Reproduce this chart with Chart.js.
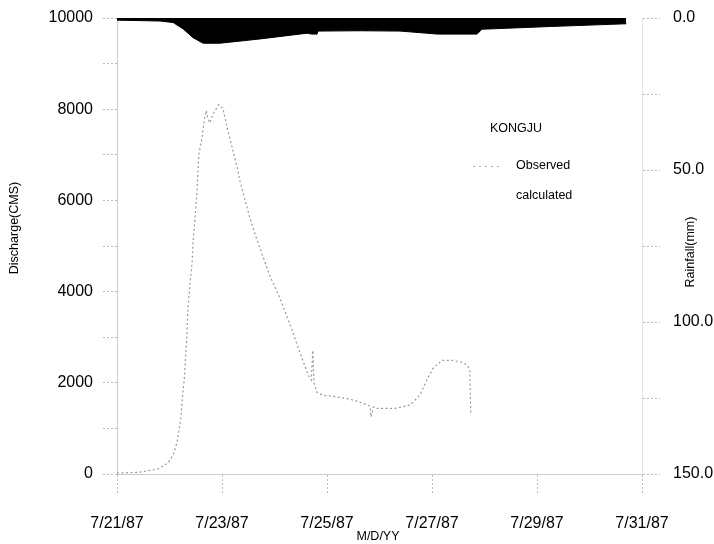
<!DOCTYPE html>
<html>
<head>
<meta charset="utf-8">
<script src="https://cdn.jsdelivr.net/npm/chart.js@4/dist/chart.umd.min.js"></script>
<style>
html,body{margin:0;padding:0;background:#fff;}
#wrap{width:714px;height:544px;position:relative;}
</style>
</head>
<body>
<div id="wrap"><canvas id="c" width="714" height="544"></canvas></div>
<script>
// x values are days since 7/21/87 00:00
const xTickLabels = ['7/21/87','7/23/87','7/25/87','7/27/87','7/29/87','7/31/87'];
const obsDays = [0,0.44,0.78,0.97,1.07,1.14,1.18,1.22,1.24,1.28,1.30,1.33,1.35,1.39,1.43,1.45,1.49,1.52,1.56,1.62,1.66,1.70,1.73,1.77,1.83,1.94,2.02,2.11,2.21,2.29,2.34,2.44,2.53,2.67,2.78,2.91,3.10,3.30,3.47,3.54,3.64,3.70,3.73,3.75,3.81,3.92,4.19,4.44,4.69,4.82,4.84,4.88,4.95,5.30,5.58,5.77,5.90,6.02,6.19,6.40,6.57,6.67,6.72,6.74];
const observed = [20,40,110,240,415,680,960,1250,1620,2060,2430,3000,3590,4180,4620,5120,5670,6150,7020,7370,7750,7970,7790,7700,7900,8100,8010,7530,7090,6720,6430,6000,5620,5120,4770,4350,3870,3260,2710,2490,2170,2060,2710,2010,1790,1730,1690,1640,1550,1490,1250,1470,1440,1440,1510,1730,2060,2320,2490,2490,2450,2390,2280,1290];
const calcDays = [];
const calculated = [];
const rainDays = [0,0.82,1.07,1.26,1.45,1.64,1.96,2.72,3.62,3.71,3.81,3.83,4.63,5.39,5.90,6.10,6.86,6.95,8.25,9.70];
const rainfall = [0.7,1.0,1.5,3.6,6.5,8.3,8.3,6.9,5.0,5.3,5.3,4.3,4.2,4.3,5.0,5.3,5.3,3.7,2.8,1.9];

const FONT = '"Liberation Sans", Arial, sans-serif';
const pts = (xs, ys) => xs.map((x, i) => ({x: x, y: ys[i]}));

const annot = {
  id: 'annot',
  afterDraw(chart) {
    const ctx = chart.ctx;
    ctx.save();
    ctx.fillStyle = '#000';
    ctx.textBaseline = 'middle';
    ctx.textAlign = 'center';
    ctx.font = '12.5px ' + FONT;
    ctx.save(); ctx.translate(15, 228); ctx.rotate(-Math.PI / 2); ctx.fillText('Discharge(CMS)', 0, 0); ctx.restore();
    ctx.save(); ctx.translate(691, 252); ctx.rotate(-Math.PI / 2); ctx.fillText('Rainfall(mm)', 0, 0); ctx.restore();
    ctx.fillText('M/D/YY', 378, 537);
    ctx.textAlign = 'left';
    ctx.font = '12.5px ' + FONT;
    ctx.fillText('KONGJU', 490, 129);
    ctx.fillText('Observed', 516, 166);
    ctx.fillText('calculated', 516, 196);
    ctx.strokeStyle = '#aaa'; ctx.lineWidth = 1; ctx.setLineDash([2, 4]);
    ctx.beginPath(); ctx.moveTo(473, 166.5); ctx.lineTo(499, 166.5); ctx.stroke();
    ctx.restore();
  }
};

new Chart(document.getElementById('c'), {
  type: 'line',
  data: {
    datasets: [
      { label: 'Rainfall', data: pts(rainDays, rainfall), yAxisID: 'y2', borderColor: '#000', backgroundColor: '#000', borderWidth: 1, fill: 'origin', pointRadius: 0, tension: 0 },
      { label: 'Observed', data: pts(obsDays, observed), yAxisID: 'y', borderColor: '#999', borderWidth: 1.2, borderDash: [2, 2.5], fill: false, pointRadius: 0, tension: 0 },
      { label: 'calculated', data: pts(calcDays, calculated), yAxisID: 'y', borderColor: 'rgba(0,0,0,0)', borderWidth: 1, fill: false, pointRadius: 0 }
    ]
  },
  options: {
    responsive: false,
    animation: false,
    layout: { padding: { top: 18, left: 0, right: 0, bottom: 0 } },
    plugins: { legend: { display: false }, tooltip: { enabled: false } },
    scales: {
      x: {
        type: 'linear', min: 0, max: 10,
        afterFit: s => { s.height = 70; s.paddingLeft = 0; s.paddingRight = 0; },
        grid: { drawOnChartArea: false, tickLength: 20, color: '#bbb', tickBorderDash: [2, 2] },
        border: { display: true, color: '#ccc', dash: [2, 3] },
        ticks: { stepSize: 2, padding: 20, color: '#000', font: { family: FONT, size: 16 }, maxRotation: 0, autoSkip: false,
          callback: v => xTickLabels[Math.round(v / 2)] }
      },
      y: {
        position: 'left', min: 0, max: 10000,
        afterFit: s => { s.width = 117; s.paddingTop = 0; s.paddingBottom = 0; },
        grid: { drawOnChartArea: false, tickLength: 14, color: '#bbb', tickBorderDash: [2, 2] },
        border: { display: true, color: '#ccc', dash: [2, 3] },
        ticks: { stepSize: 1000, padding: 10, color: '#000', font: { family: FONT, size: 16 },
          callback: v => (v % 2000 === 0 ? String(v) : '') }
      },
      y2: {
        position: 'right', min: 0, max: 150, reverse: true,
        afterFit: s => { s.width = 72; s.paddingTop = 0; s.paddingBottom = 0; },
        grid: { drawOnChartArea: false, tickLength: 18, color: '#bbb', tickBorderDash: [2, 2] },
        border: { display: true, color: '#e4e4e4', dash: [1, 4] },
        ticks: { stepSize: 25, padding: 13, color: '#000', font: { family: FONT, size: 16 },
          callback: v => (v % 50 === 0 ? v.toFixed(1) : '') }
      }
    }
  },
  plugins: [annot]
});
</script>
</body>
</html>
